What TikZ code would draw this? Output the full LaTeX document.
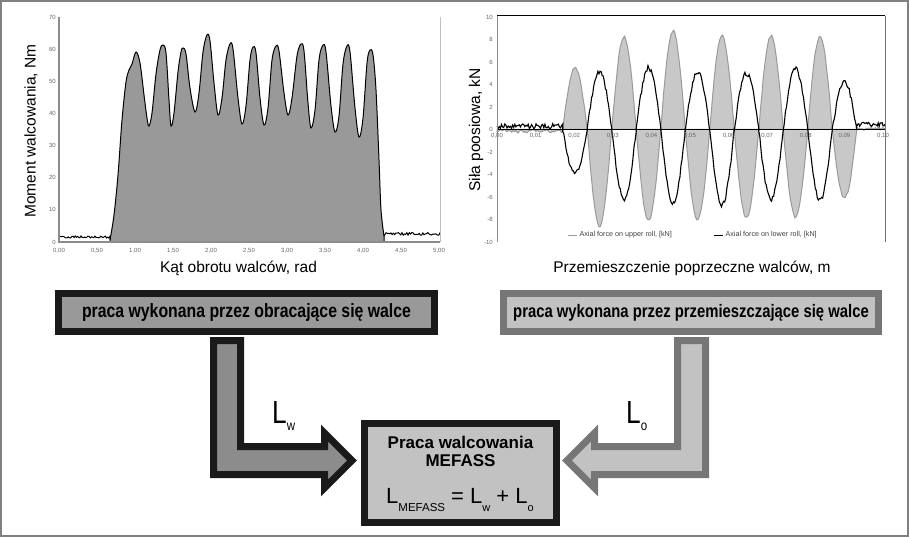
\documentclass[tikz,border=0pt]{standalone}
\usepackage{fontspec}
\setmainfont{Liberation Sans}
\newfontfamily\narrowfont[FakeStretch=0.82]{Liberation Sans}
\definecolor{boxblack}{HTML}{1A1A1A}
\definecolor{darkfill}{HTML}{999999}
\definecolor{arrowfill}{HTML}{8C8C8C}
\definecolor{midframe}{HTML}{767676}
\definecolor{lightfill}{HTML}{C2C2C2}
\definecolor{upperfill}{HTML}{C8C8C8}
\definecolor{upperline}{HTML}{9A9A9A}
\newcommand{\lsub}[2]{\raisebox{-8pt}{\fontsize{#1}{#1}\selectfont #2}}
\begin{document}
\begin{tikzpicture}[x=1pt,y=-1pt,
  ticklab/.style={font=\fontsize{6}{6}\selectfont,text=black!60,inner sep=1pt},
  axtitle/.style={font=\fontsize{15.5}{16}\selectfont,inner sep=0pt},
  legtext/.style={font=\fontsize{7.2}{8}\selectfont,text=black!75,inner sep=0pt,anchor=west},
  workbox/.style={draw,line width=7pt,inner sep=0pt,font=\narrowfont\bfseries\fontsize{19.3}{20}\selectfont},
  blockarrow/.style={line width=7pt,miter limit=10},
  bigl/.style={inner sep=0pt,anchor=base west,font=\narrowfont\fontsize{32}{32}\selectfont}]
  \useasboundingbox (0,0) rectangle (909,537);
  \draw[black!50,line width=1.5pt] (1,1) rectangle (908,536);
  % moment chart
  \begin{scope}
    \filldraw[fill=darkfill,draw=black,line width=1pt] (110,242) -- plot[smooth,tension=0.55] coordinates {(110,240) (114,215) (118,175) (122,120) (126,82) (129,70) (132,64) (136,52) (140,63) (144,95) (147,118) (149,126) (152,113) (156,74) (160,50) (163,45) (166,53) (169,100) (171,126) (174,113) (178,72) (181,52) (183,48) (186,54) (190,88) (195,112) (199,93) (203,52) (207,35) (210,41) (214,83) (218,115) (222,98) (226,60) (230,44) (233,49) (238,98) (242,124) (246,106) (250,60) (253,47) (256,53) (260,98) (264,125) (268,108) (272,60) (276,46) (279,51) (284,93) (288,115) (292,98) (297,56) (301,44) (304,51) (308,103) (311,128) (315,110) (319,60) (323,45) (326,52) (331,106) (335,132) (339,116) (343,64) (347,46) (350,52) (355,108) (359,137) (363,118) (367,63) (370,50) (373,55) (376,90) (379,160) (381,210) (384,236)} -- (384,242) -- cycle;
    \pgfmathsetseed{11}
    \draw[line width=1pt] plot[domain=59:110,samples=45] (\x,{237+1.2*rand}) -- (110,240);
    \draw[line width=1pt] (384,236) -- plot[domain=386:440,samples=45] (\x,{234+1.4*rand});
    \draw[black!45,line width=1.2pt] (59,17) -- (59,242) -- (440,242);
    \draw[black!25,line width=1pt] (440,17) -- (440,242);
    \foreach \v in {0,10,...,70}
      \node[ticklab,anchor=east] (my\v) at (57,{242-3.214*\v}) {\v};
    \foreach \i/\t in {0/{0,00},1/{0,50},2/{1,00},3/{1,50},4/{2,00},5/{2,50},6/{3,00},7/{3,50},8/{4,00},9/{4,50},10/{5,00}}
      \node[ticklab,anchor=north] (mx\i) at ({59+38*\i},247) {\t};
    \node[axtitle,anchor=base] (mxtitle) at (238.5,272) {Kąt obrotu walców, rad};
    \node[axtitle,rotate=90] (mytitle) at (31,131) {Moment walcowania, Nm};
  \end{scope}
  % axial force chart
  \begin{scope}
    \pgfmathsetseed{21}
    \filldraw[fill=upperfill,draw=upperline,line width=1pt] (497,129.5) -- plot[domain=497:562.75,samples=50] (\x,{129.5-11.2*(-0.15+0.15*rand)})
      foreach \k/\g in {0/5.5,1/-8.6,2/8.3,3/-8.2,4/8.8,5/-8.1,6/8.4,7/-7.9,8/8.4,9/-7.8,10/8.3,11/-6.1}
        { -- plot[domain=-12.25:12.25,samples=18] ({575+24.5*\k+\x},{129.5-11.2*(\g*cos(\x*180/24.5)+0.12*rand)}) }
      -- plot[domain=856.75:885,samples=25] (\x,{129.5-11.2*(0.05+0.12*rand)}) -- (885,129.5) -- cycle;
    \draw[black,line width=1pt] (497,129.5) -- (885,129.5);
    \pgfmathsetseed{5}
    \draw[black,line width=1.1pt] plot[domain=497:562.75,samples=60] (\x,{129.5-11.2*(0.3+0.22*rand)})
      foreach \k/\b in {0/-3.9,1/5.2,2/-6.2,3/5.5,4/-6.5,5/5.1,6/-6.7,7/5.0,8/-6.2,9/5.4,10/-6.3,11/4.2}
        { -- plot[domain=-12.25:12.25,samples=24] ({575+24.5*\k+\x},{129.5-11.2*(\b*cos(\x*180/24.5)+0.22*rand)}) }
      -- plot[domain=856.75:885,samples=30] (\x,{129.5-11.2*(0.45+0.2*rand)});
    \draw[black!45,line width=1pt] (497,16) -- (497,242);
    \draw[black,line width=1pt] (497,16) -- (885,16);
    \draw[black!55,line width=1pt] (885,16) -- (885,242);
    \foreach \v in {10,8,6,4,2,0,-2,-4,-6,-8,-10}
      \node[ticklab,anchor=east] (fy\v) at (494,{129.5-11.25*\v}) {\v};
    \foreach \i/\t in {0/{0,00},1/{0,01},2/{0,02},3/{0,03},4/{0,04},5/{0,05},6/{0,06},7/{0,07},8/{0,08},9/{0,09},10/{0,10}}
      \node[ticklab,anchor=north] (fx\i) at ({497+38.6*\i},132) {\t};
    \coordinate (legA) at (568,235);
    \coordinate (legB) at (714,235);
    \draw[upperline,line width=1pt] (legA) -- ++(9,0) node[legtext,xshift=2pt] (legupper) {Axial force on upper roll, [kN]};
    \draw[black,line width=1pt] (legB) -- ++(9,0) node[legtext,xshift=2pt] (leglower) {Axial force on lower roll, [kN]};
    \node[axtitle,anchor=base] (fxtitle) at (692,272) {Przemieszczenie poprzeczne walców, m};
    \node[axtitle,rotate=90] (fytitle) at (476,130) {Siła poosiowa, kN};
  \end{scope}
  % work boxes
  \node[workbox,draw=boxblack,fill=darkfill,minimum width=376pt,minimum height=38pt] (obrbox) at (246.5,312.5) {praca wykonana przez obracające się walce};
  \node[workbox,draw=midframe,fill=lightfill,font=\narrowfont\bfseries\fontsize{18.1}{19}\selectfont,minimum width=375pt,minimum height=38pt] (przbox) at (691,312.5) {praca wykonana przez przemieszczające się walce};
  \node[draw=boxblack,fill=lightfill,line width=7pt,minimum width=192pt,minimum height=99pt] (mefbox) at (460.5,473) {};
  \node[inner sep=0pt,anchor=base,font=\bfseries\fontsize{17}{17}\selectfont] (meftitle) at (460.5,448) {Praca walcowania};
  \node[inner sep=0pt,anchor=base,font=\bfseries\fontsize{17}{17}\selectfont] (mefname) at (460.5,466) {MEFASS};
  \node[inner sep=0pt,anchor=base west,font=\fontsize{22}{22}\selectfont] (mefsum) at (386,503) {L\lsub{11.5}{MEFASS} = L\lsub{11}{w} + L\lsub{11}{o}};
  % arrows
  \filldraw[blockarrow,draw=boxblack,fill=arrowfill] (213.5,340.5) -- (240.5,340.5) -- (240.5,446.5) -- (324.5,446.5) -- (324.5,433) -- (352,460.5) -- (324.5,488) -- (324.5,474.5) -- (213.5,474.5) -- cycle;
  \filldraw[blockarrow,draw=midframe,fill=lightfill] (677.5,340.5) -- (705.5,340.5) -- (705.5,474.5) -- (594.5,474.5) -- (594.5,488) -- (567,460.5) -- (594.5,433) -- (594.5,446.5) -- (677.5,446.5) -- cycle;
  \node[bigl] (lw) at (272,423) {L\raisebox{-7pt}{\fontsize{14}{14}\selectfont w}};
  \node[bigl] (lo) at (626,423) {L\raisebox{-7pt}{\fontsize{14}{14}\selectfont o}};
\end{tikzpicture}
\end{document}
